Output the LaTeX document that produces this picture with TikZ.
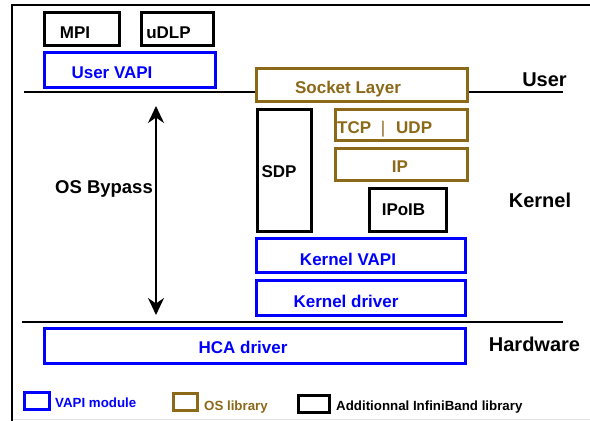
\documentclass[tikz,border=0pt]{standalone}
\usepackage{fontspec}
\setmainfont{Liberation Sans}
\usetikzlibrary{arrows.meta}
\definecolor{vapiblue}{RGB}{0,0,255}
\definecolor{oslib}{RGB}{140,105,25}
\begin{document}
\begin{tikzpicture}[x=1pt,y=-1pt,
  bx/.style={draw, line width=2.7pt, inner sep=0pt, fill=white},
  bbox/.style={bx, draw=black},
  vbox/.style={bx, draw=vapiblue},
  obox/.style={bx, draw=oslib},
  txt/.style={anchor=base, inner sep=0pt, font=\fontsize{17}{20}\selectfont\bfseries},
  ltxt/.style={anchor=base, inner sep=0pt, font=\fontsize{20}{24}\selectfont\bfseries},
  legtxt/.style={anchor=base west, inner sep=0pt, font=\fontsize{13.3}{16}\selectfont\bfseries},
  rule/.style={line width=2.2pt}
]
\useasboundingbox (0,0) rectangle (590,421);
% frame
\coordinate (ftr) at (590,5);
\coordinate (ftl) at (12,5);
\coordinate (fbl) at (12,421);
\draw[line width=2.5pt] (ftr) -- (ftl) -- (fbl);
\coordinate (gbl) at (13,419.5);
\coordinate (gbr) at (590,419.5);
\draw[gray!20, line width=1pt] (gbl) -- (gbr);
% layer separators
\coordinate (ul1) at (24,92);
\coordinate (ul2) at (563,92);
\draw[rule] (ul1) -- (ul2);
\coordinate (hl1) at (22,322);
\coordinate (hl2) at (563,322);
\draw[rule] (hl1) -- (hl2);
% boxes
\node[bbox, minimum width=75.3pt, minimum height=32.7pt] (mpi) at (82,28.8) {};
\node[bbox, minimum width=72.3pt, minimum height=32.7pt] (udlp) at (177.5,28.8) {};
\node[vbox, minimum width=171.3pt, minimum height=35.3pt] (uvapi) at (130,70) {};
\node[obox, minimum width=211.3pt, minimum height=33.3pt] (sock) at (362,85) {};
\node[bbox, minimum width=54.3pt, minimum height=122.3pt] (sdp) at (284.5,170.5) {};
\node[obox, minimum width=132.3pt, minimum height=31.3pt] (tcp) at (401.5,125) {};
\node[obox, minimum width=132.3pt, minimum height=32.3pt] (ip) at (401.5,164.5) {};
\node[bbox, minimum width=77.3pt, minimum height=43.3pt] (ipoib) at (408,210) {};
\node[vbox, minimum width=209.3pt, minimum height=34.3pt] (kvapi) at (361,255.5) {};
\node[vbox, minimum width=209.3pt, minimum height=35.3pt] (kdrv) at (361,298) {};
\node[vbox, minimum width=421.3pt, minimum height=35.3pt] (hca) at (255,346) {};
% texts in boxes
\node[txt] (tmpi) at (75,38) {MPI};
\node[txt] (tudlp) at (168.5,38) {uDLP};
\node[txt, text=vapiblue] (tuvapi) at (112,78) {User VAPI};
\node[txt, text=oslib] (tsock) at (348,93) {Socket Layer};
\node[txt] (tsdp) at (279,177) {SDP};
\node[txt, text=oslib, anchor=base west] (ttcp) at (337,133) {TCP};
\node[txt, text=oslib, font=\fontsize{17}{20}\selectfont] (tbar) at (383,133) {|};
\node[txt, text=oslib, anchor=base west] (tudp) at (396,133) {UDP};
\node[txt, text=oslib] (tip) at (400,172) {IP};
\node[txt] (tipoib) at (403.5,215) {IPoIB};
\node[txt, text=vapiblue] (tkvapi) at (348,265) {Kernel VAPI};
\node[txt, text=vapiblue] (tkdrv) at (346,307) {Kernel driver};
\node[txt, text=vapiblue] (thca) at (243,353) {HCA driver};
% layer labels
\node[ltxt] (luser) at (544.5,86) {User};
\node[ltxt] (lkernel) at (540,207) {Kernel};
\node[ltxt] (lhw) at (534.5,351) {Hardware};
% OS bypass arrow
\coordinate (atop) at (156,106);
\coordinate (abot) at (156,315);
\draw[line width=2pt, {Stealth[length=17pt,width=16pt,inset=5.5pt]}-{Stealth[length=17pt,width=16pt,inset=5.5pt]}] (atop) -- (abot);
\node[anchor=base, inner sep=0pt, font=\fontsize{18.5}{22}\selectfont\bfseries] (tbypass) at (104,193) {OS Bypass};
% legend
\node[vbox, minimum width=25.3pt, minimum height=17.3pt] (legv) at (37,401) {};
\node[legtxt, text=vapiblue] (legvt) at (55,407) {VAPI module};
\node[obox, minimum width=24.3pt, minimum height=17.3pt] (lego) at (185.5,402) {};
\node[legtxt, text=oslib] (legot) at (204,410) {OS library};
\node[bbox, minimum width=31.3pt, minimum height=17.3pt] (legb) at (314,404) {};
\node[legtxt] (legbt) at (336,410) {Additionnal InfiniBand library};
\end{tikzpicture}
\end{document}
